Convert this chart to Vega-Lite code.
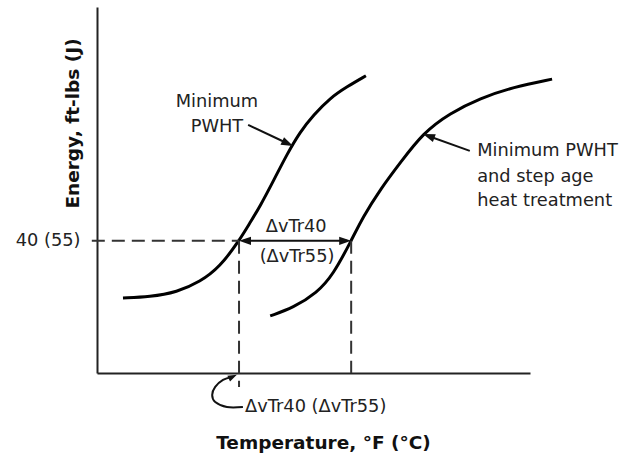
{
  "$schema": "https://vega.github.io/schema/vega-lite/v6.json",
  "autosize": "none",
  "width": 433,
  "height": 366,
  "padding": {"left": 97, "top": 7, "right": 103, "bottom": 82},
  "background": "white",
  "config": {"view": {"stroke": null}},
  "encoding": {
    "x": {
      "field": "x", "type": "quantitative",
      "scale": {"domain": [0, 100], "nice": false, "zero": false},
      "axis": {
        "domain": true, "domainColor": "#222", "domainWidth": 2,
        "ticks": false, "tickSize": 0, "labels": false, "grid": false,
        "title": "Temperature, °F (°C)",
        "titleFont": "DejaVu Sans", "titleFontSize": 18.5, "titleFontWeight": "bold", "titleColor": "#111",
        "titleX": 226, "titleY": 69, "titleAlign": "center", "titleBaseline": "middle"
      }
    },
    "y": {
      "field": "y", "type": "quantitative",
      "scale": {"domain": [0, 100], "nice": false, "zero": false},
      "axis": {
        "domain": true, "domainColor": "#222", "domainWidth": 2,
        "ticks": false, "tickSize": 0, "grid": false,
        "values": [36.1], "labelExpr": "'40 (55)'",
        "labelFont": "DejaVu Sans", "labelFontSize": 17.8, "labelColor": "#222", "labelPadding": 17,
        "title": "Energy, ft-lbs (J)",
        "titleFont": "DejaVu Sans", "titleFontSize": 18.5, "titleFontWeight": "bold", "titleColor": "#111",
        "titleAngle": -90, "titleX": -25, "titleY": 116, "titleAlign": "center", "titleBaseline": "middle"
      }
    }
  },
  "layer": [
    {
      "data": {"values": [
        {"s": "a", "i": 1, "x": 6.0, "y": 20.5},
        {"s": "a", "i": 2, "x": 12.2, "y": 20.8},
        {"s": "a", "i": 3, "x": 18.5, "y": 22.1},
        {"s": "a", "i": 4, "x": 23.8, "y": 24.9},
        {"s": "a", "i": 5, "x": 28.4, "y": 29.0},
        {"s": "a", "i": 6, "x": 32.8, "y": 36.1},
        {"s": "a", "i": 7, "x": 35.3, "y": 41.0},
        {"s": "a", "i": 8, "x": 37.6, "y": 45.4},
        {"s": "a", "i": 9, "x": 41.1, "y": 53.3},
        {"s": "a", "i": 10, "x": 43.8, "y": 59.6},
        {"s": "a", "i": 11, "x": 46.9, "y": 65.9},
        {"s": "a", "i": 12, "x": 50.0, "y": 70.5},
        {"s": "a", "i": 13, "x": 53.8, "y": 75.1},
        {"s": "a", "i": 14, "x": 57.7, "y": 78.2},
        {"s": "a", "i": 15, "x": 62.1, "y": 81.2},
        {"s": "b", "i": 1, "x": 40.0, "y": 15.6},
        {"s": "b", "i": 2, "x": 45.3, "y": 17.8},
        {"s": "b", "i": 3, "x": 50.8, "y": 21.9},
        {"s": "b", "i": 4, "x": 54.5, "y": 26.8},
        {"s": "b", "i": 5, "x": 58.7, "y": 36.1},
        {"s": "b", "i": 6, "x": 61.4, "y": 42.6},
        {"s": "b", "i": 7, "x": 65.6, "y": 50.5},
        {"s": "b", "i": 8, "x": 70.0, "y": 57.4},
        {"s": "b", "i": 9, "x": 75.3, "y": 65.6},
        {"s": "b", "i": 10, "x": 81.5, "y": 71.0},
        {"s": "b", "i": 11, "x": 88.5, "y": 75.1},
        {"s": "b", "i": 12, "x": 96.1, "y": 78.1},
        {"s": "b", "i": 13, "x": 105.1, "y": 80.3}
      ]},
      "mark": {"type": "line", "color": "#000", "strokeWidth": 3, "interpolate": "basis", "clip": false},
      "encoding": {
        "detail": {"field": "s"},
        "order": {"field": "i", "type": "quantitative"}
      }
    },
    {
      "data": {"values": [
        {"x": -1.2, "x2": 32.8, "y": 36.1, "y2": 36.1},
        {"x": 32.8, "x2": 32.8, "y": 36.1, "y2": -3.8},
        {"x": 58.7, "x2": 58.7, "y": 36.1, "y2": 0}
      ]},
      "mark": {"type": "rule", "color": "#333", "strokeWidth": 2, "strokeDash": [13, 7], "clip": false},
      "encoding": {
        "x2": {"field": "x2"},
        "y2": {"field": "y2"}
      }
    },
    {
      "data": {"values": [
        {"x": 33.8, "x2": 57.7, "y": 36.1, "y2": 36.1},
        {"x": 34.9, "x2": 44.4, "y": 67.8, "y2": 62.5},
        {"x": 86.1, "x2": 76.2, "y": 60.7, "y2": 64.9}
      ]},
      "mark": {"type": "rule", "color": "#111", "strokeWidth": 2, "clip": false},
      "encoding": {
        "x2": {"field": "x2"},
        "y2": {"field": "y2"}
      }
    },
    {
      "data": {"values": [
        {"i": 1, "x": 33.7, "y": -9.3},
        {"i": 2, "x": 30.0, "y": -9.3},
        {"i": 3, "x": 27.3, "y": -7.9},
        {"i": 4, "x": 26.6, "y": -6.0},
        {"i": 5, "x": 27.3, "y": -3.8},
        {"i": 6, "x": 29.1, "y": -1.9},
        {"i": 7, "x": 31.2, "y": -1.1}
      ]},
      "mark": {"type": "line", "color": "#111", "strokeWidth": 2, "interpolate": "cardinal", "clip": false},
      "encoding": {
        "order": {"field": "i", "type": "quantitative"}
      }
    },
    {
      "data": {"values": [
        {"x": 32.8, "y": 36.1, "ang": 180, "sz": 144},
        {"x": 58.7, "y": 36.1, "ang": 0, "sz": 144},
        {"x": 45.3, "y": 62.0, "ang": 25, "sz": 144},
        {"x": 75.3, "y": 65.3, "ang": 200, "sz": 144},
        {"x": 32.3, "y": -0.5, "ang": -25, "sz": 81}
      ]},
      "mark": {"type": "point", "shape": "M0,0L-2,-0.7L-2,0.7Z", "filled": true, "color": "#111", "opacity": 1, "strokeWidth": 0, "clip": false},
      "encoding": {
        "angle": {"field": "ang", "type": "quantitative", "scale": null},
        "size": {"field": "sz", "type": "quantitative", "scale": null}
      }
    },
    {
      "data": {"values": [
        {"x": 46.0, "y": 39.9, "t": "ΔvTr40"},
        {"x": 46.2, "y": 31.7, "t": "(ΔvTr55)"},
        {"x": 27.7, "y": 74.0, "t": "Minimum"},
        {"x": 27.7, "y": 67.2, "t": "PWHT"}
      ]},
      "mark": {"type": "text", "font": "DejaVu Sans", "fontSize": 17.8, "color": "#222", "align": "center", "baseline": "middle", "clip": false},
      "encoding": {"text": {"field": "t"}}
    },
    {
      "data": {"values": [
        {"x": 87.8, "y": 60.7, "t": "Minimum PWHT"},
        {"x": 87.8, "y": 53.6, "t": "and step age"},
        {"x": 87.8, "y": 47.0, "t": "heat treatment"},
        {"x": 34.2, "y": -9.3, "t": "ΔvTr40 (ΔvTr55)"}
      ]},
      "mark": {"type": "text", "font": "DejaVu Sans", "fontSize": 17.8, "color": "#222", "align": "left", "baseline": "middle", "clip": false},
      "encoding": {"text": {"field": "t"}}
    }
  ]
}
